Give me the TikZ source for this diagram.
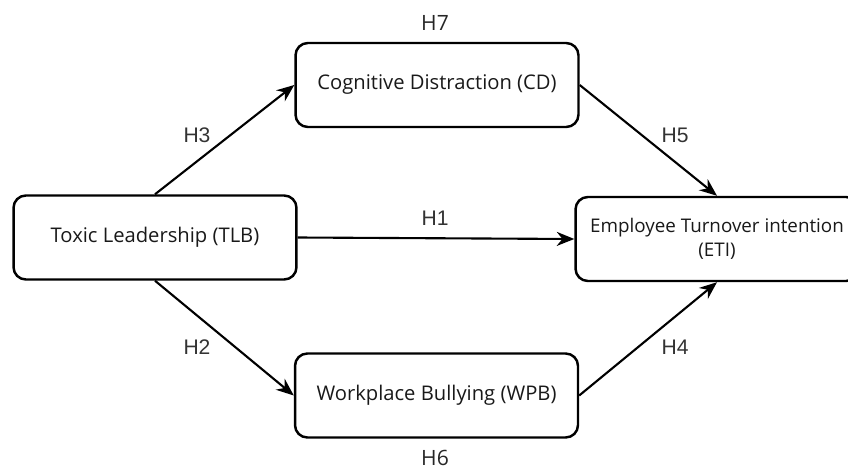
\documentclass[tikz,border=0pt]{standalone}
\usepackage{fontspec}
\setmainfont{Open Sans}
\newfontfamily\hypfont{Liberation Sans}
\usetikzlibrary{arrows.meta}

\begin{document}
\begin{tikzpicture}[x=0.02cm,y=-0.02cm,
  box/.style={draw,line width=1.4pt,rounded corners=7pt,minimum width=5.66cm,
    minimum height=1.68cm,align=center,text=black!90,font=\fontsize{11.5}{14}\selectfont},
  link/.style={line width=1.2pt,-{Stealth[length=10pt,width=8pt]}},
  hyp/.style={text=black!80,font=\hypfont\fontsize{12}{14}\selectfont},
  hypb/.style={text=black!85,font=\fontsize{12}{14}\selectfont}]
  \useasboundingbox (0,0) rectangle (848,470);

  % Variables
  \node[box] (TLB) at (155,237.5) {Toxic Leadership (TLB)};
  \node[box] (CD)  at (437,85)    {Cognitive Distraction (CD)};
  \node[box] (WPB) at (436.5,395.5) {Workplace Bullying (WPB)};
  \node[box,font=\fontsize{10.7}{14}\selectfont] (ETI) at (717,239)
    {Employee Turnover intention\\(ETI)};

  % Hipotesis
  \draw[link] (TLB.north) -- (CD.west);
  \draw[link] (TLB.east)  -- (ETI.west);
  \draw[link] (TLB.south) -- (WPB.west);
  \draw[link] (CD.east)   -- (ETI.north);
  \draw[link] (WPB.east)  -- (ETI.south);

  % Etiquetas
  \node[hyp] (h1) at (435,218) {H1};
  \node[hyp] (h2) at (197,347) {H2};
  \node[hyp] (h3) at (197,135) {H3};
  \node[hyp] (h4) at (675,347) {H4};
  \node[hyp] (h5) at (675,135) {H5};
  \node[hypb] (h6) at (435,458) {H6};
  \node[hypb] (h7) at (435,23)  {H7};
\end{tikzpicture}
\end{document}
